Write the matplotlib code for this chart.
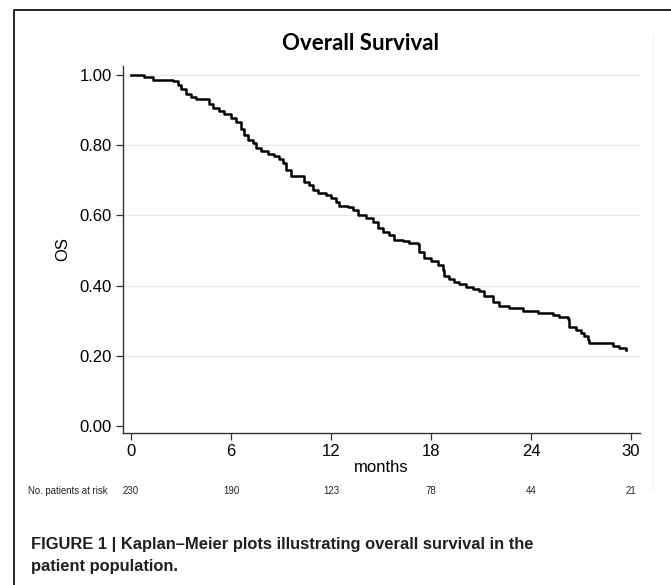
import numpy as np
import matplotlib.pyplot as plt
from matplotlib.lines import Line2D

# --- Kaplan-Meier step data ---
months = [0.0, 0.8, 1.3, 2.5, 2.8, 3.0, 3.3, 3.6, 3.9, 4.7, 4.9, 5.3, 5.6,
          6.0, 6.3, 6.6, 6.8, 7.0, 7.3, 7.5, 7.8, 8.2, 8.6, 8.9, 9.1, 9.3,
          9.6, 10.4, 10.7, 10.9, 11.2, 11.7, 12.0, 12.3, 12.5, 13.0, 13.3,
          13.6, 14.1, 14.5, 14.8, 15.1, 15.5, 15.8, 16.3, 16.7, 17.2, 17.3,
          17.6, 18.0, 18.4, 18.7, 18.8, 19.1, 19.4, 19.7, 20.1, 20.5, 20.9,
          21.2, 21.7, 22.1, 22.7, 23.5, 24.4, 25.3, 25.7, 26.2, 26.3, 26.7,
          27.0, 27.2, 27.4, 27.5, 28.9, 29.3, 29.7]
surv = [1.000, 0.994, 0.987, 0.982, 0.972, 0.960, 0.945, 0.938, 0.931, 0.916,
        0.905, 0.897, 0.888, 0.878, 0.865, 0.846, 0.829, 0.815, 0.805, 0.791,
        0.784, 0.775, 0.769, 0.760, 0.748, 0.729, 0.712, 0.696, 0.687, 0.672,
        0.665, 0.658, 0.649, 0.639, 0.627, 0.625, 0.615, 0.601, 0.592, 0.582,
        0.563, 0.554, 0.544, 0.530, 0.528, 0.522, 0.519, 0.497, 0.478, 0.471,
        0.459, 0.444, 0.427, 0.418, 0.411, 0.405, 0.395, 0.389, 0.385, 0.370,
        0.354, 0.342, 0.335, 0.329, 0.323, 0.316, 0.311, 0.304, 0.283, 0.274,
        0.266, 0.256, 0.245, 0.237, 0.228, 0.221, 0.216]

x_ticks = [0, 6, 12, 18, 24, 30]
y_ticks = [0.0, 0.2, 0.4, 0.6, 0.8, 1.0]
at_risk = [230, 190, 123, 78, 44, 21]

W, H = 671, 585
fig = plt.figure(figsize=(W / 100, H / 100), dpi=100)

def fx(px):
    return px / W

def fy(py):
    return 1 - py / H

# plot area (pixel box 123..640 x 66..433)
ax = fig.add_axes([fx(123), fy(433), fx(640) - fx(123), fy(66) - fy(433)])
ax.step(months, surv, where='post', color='black', lw=1.8)

ax.set_xlim(-0.48, 30.54)
ax.set_ylim(-0.02, 1.0256)
ax.set_xticks(x_ticks)
ax.set_yticks(y_ticks)
ax.set_yticklabels([f'{v:.2f}' for v in y_ticks])
for v in y_ticks[1:]:
    ax.axhline(v, color='#e3ecf0', lw=1.0, zorder=0)

for s in ['top', 'right']:
    ax.spines[s].set_visible(False)
for s in ['left', 'bottom']:
    ax.spines[s].set_color('#333333')
    ax.spines[s].set_linewidth(1.0)
ax.tick_params(axis='both', direction='out', length=5, width=0.9, color='#333333',
               labelsize=12, pad=3)
for lab in ax.get_xticklabels() + ax.get_yticklabels():
    lab.set_family('Liberation Sans')

ax.set_xlabel('months', family='Liberation Sans', fontsize=12, labelpad=1)
ax.set_ylabel('OS', family='Liberation Sans', fontsize=12, labelpad=7)

# number at risk row
fig.text(fx(28), fy(491), 'No. patients at risk', family='Liberation Sans',
         fontsize=6.9, ha='left', va='center', color='#222222')
for t, n in zip(x_ticks, at_risk):
    xf = fig.transFigure.inverted().transform(ax.transData.transform((t, 0)))[0]
    fig.text(xf, fy(491), str(n), family='Liberation Sans', fontsize=6.9,
             ha='center', va='center', color='#222222')

# title
fig.text(fx(360), fy(44), 'Overall Survival', family='Lato', fontweight='bold',
         fontsize=16, ha='center', va='center')

# caption
fig.text(fx(31), fy(545),
         'FIGURE 1 | Kaplan\u2013Meier plots illustrating overall survival in the',
         family='Liberation Sans', fontweight='bold', fontsize=11.9,
         ha='left', va='center', color='#231f20')
fig.text(fx(31), fy(566), 'patient population.',
         family='Liberation Sans', fontweight='bold', fontsize=11.9,
         ha='left', va='center', color='#231f20')

# faint graph-region edge and outer frame
fig.add_artist(Line2D([fx(653), fx(653)], [fy(35), fy(490)], color='#edf2f5', lw=1))
fig.add_artist(Line2D([fx(14), fx(14), 1.0], [0.0, fy(10), fy(10)], color='black', lw=1.2))

fig.savefig('out.png', dpi=100)
